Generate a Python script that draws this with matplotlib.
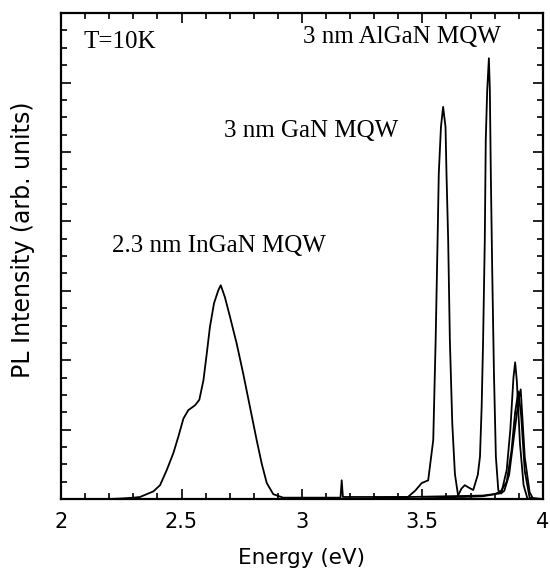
import numpy as np
import matplotlib
matplotlib.use("Agg")
import matplotlib.pyplot as plt
from matplotlib.ticker import MultipleLocator

# PL spectra (energy in eV, intensity in arb. units)
ingan_e = [2.20, 2.26, 2.30, 2.328, 2.383, 2.411, 2.439, 2.466, 2.487, 2.508,
           2.528, 2.556, 2.574, 2.591, 2.605, 2.618, 2.635, 2.653, 2.663,
           2.68, 2.701, 2.729, 2.756, 2.784, 2.812, 2.833, 2.854, 2.881,
           2.922, 3.00, 3.16, 3.165, 3.17, 3.30, 3.45, 3.60, 3.75, 3.82,
           3.85, 3.87, 3.885, 3.898, 3.91, 3.925, 3.945, 4.0]
ingan_i = [0.0, 0.01, 0.02, 0.03, 0.11, 0.20, 0.42, 0.66, 0.90, 1.16,
           1.28, 1.35, 1.43, 1.71, 2.10, 2.48, 2.82, 3.01, 3.08,
           2.91, 2.63, 2.24, 1.81, 1.33, 0.85, 0.51, 0.23, 0.07,
           0.02, 0.02, 0.02, 0.27, 0.03, 0.03, 0.03, 0.04, 0.05, 0.08,
           0.25, 0.70, 1.25, 1.55, 1.20, 0.40, 0.02, 0.0]

gan_e = [3.30, 3.44, 3.47, 3.497, 3.524, 3.545, 3.555, 3.563, 3.568, 3.577,
         3.586, 3.596, 3.600, 3.607, 3.614, 3.624, 3.635, 3.649, 3.67,
         3.75, 3.80, 3.83, 3.85, 3.865, 3.878, 3.885, 3.892, 3.905, 3.92,
         3.935]
gan_i = [0.02, 0.03, 0.12, 0.23, 0.27, 0.85, 2.29, 3.73, 4.69, 5.36,
         5.65, 5.36, 4.69, 3.73, 2.29, 1.09, 0.36, 0.03, 0.03,
         0.04, 0.07, 0.12, 0.42, 1.00, 1.75, 1.97, 1.70, 0.80, 0.20,
         0.02]

algan_e = [3.50, 3.62, 3.645, 3.662, 3.676, 3.69, 3.711, 3.73, 3.739, 3.746,
           3.752, 3.759, 3.763, 3.769, 3.776, 3.780, 3.784, 3.790, 3.797,
           3.805, 3.815, 3.826, 3.84, 3.86, 3.88, 3.90, 3.908, 3.925, 3.945,
           3.96]
algan_i = [0.01, 0.02, 0.03, 0.15, 0.20, 0.17, 0.13, 0.35, 0.61, 1.33,
           2.29, 3.73, 5.17, 5.89, 6.35, 5.89, 4.69, 3.25, 1.81,
           0.61, 0.13, 0.08, 0.12, 0.35, 0.90, 1.45, 1.58, 0.60, 0.10,
           0.0]

fig = plt.figure(figsize=(5.5, 5.71), dpi=100)
ax = fig.add_axes([0.111, 0.126, 0.876, 0.851])

for e, i in [(ingan_e, ingan_i), (gan_e, gan_i), (algan_e, algan_i)]:
    ax.plot(e, i, color="black", lw=1.3)

ax.set_xlim(2, 4)
ax.set_ylim(0, 7)
ax.xaxis.set_major_locator(MultipleLocator(0.5))
ax.xaxis.set_minor_locator(MultipleLocator(0.1))
ax.yaxis.set_major_locator(MultipleLocator(1))
ax.yaxis.set_minor_locator(MultipleLocator(0.25))
ax.xaxis.set_major_formatter(plt.FuncFormatter(lambda v, p: f"{v:g}"))
ax.tick_params(which="both", direction="in", top=True, right=True,
               labelleft=False, width=1.2)
ax.tick_params(which="major", length=7, labelsize=15, pad=9)
ax.tick_params(which="minor", length=4)
for s in ax.spines.values():
    s.set_linewidth(1.6)

ax.set_xlabel("Energy (eV)", fontsize=15.5)
ax.set_ylabel("PL Intensity (arb. units)", fontsize=17)
ax.xaxis.set_label_coords(0.5, -0.1)
ax.yaxis.set_label_coords(-0.055, 0.533)

serif = dict(family="Liberation Serif", fontsize=18, va="baseline", ha="left")
ax.text(2.092, 6.50, "T=10K", **serif)
ax.text(3.004, 6.57, "3 nm AlGaN MQW", **serif)
ax.text(2.675, 5.22, "3 nm GaN MQW", **serif)
ax.text(2.2125, 3.56, "2.3 nm InGaN MQW", **serif)

fig.savefig("out.png", dpi=100)
